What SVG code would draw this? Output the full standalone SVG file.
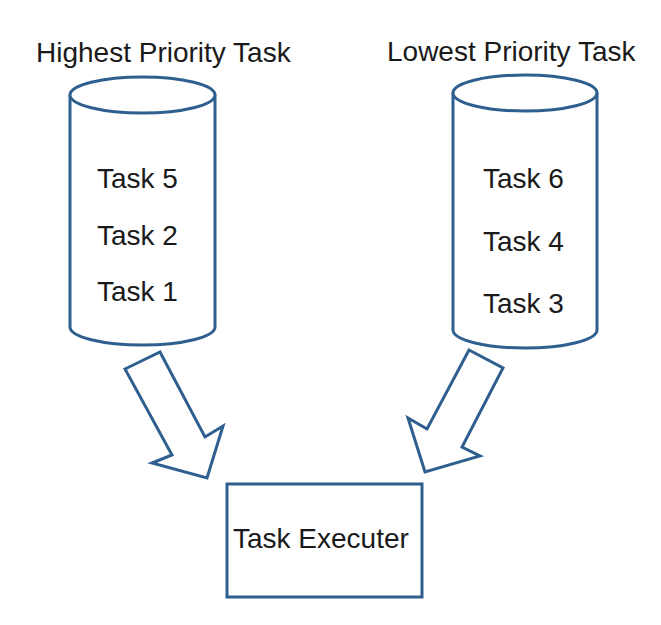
<svg xmlns="http://www.w3.org/2000/svg" width="661" height="625" viewBox="0 0 661 625">
<style>
.s{fill:#fff;stroke:#2f5f8f;stroke-width:3;stroke-linejoin:miter}
.t{font-family:"Liberation Sans",Arial,sans-serif;font-size:28px;fill:#1a1a1a}
</style>
<rect width="661" height="625" fill="#fff"/>
<text class="t" x="36" y="62">Highest Priority Task</text>
<text class="t" x="387" y="61">Lowest Priority Task</text>
<g id="high">
<path class="s" d="M70,95 V327 A72.5,18 0 0 0 215,327 V95"/>
<ellipse class="s" cx="142.5" cy="95" rx="72.5" ry="18"/>
<text class="t" x="97" y="188">Task 5</text>
<text class="t" x="97" y="245">Task 2</text>
<text class="t" x="97" y="301">Task 1</text>
</g>
<g id="low">
<path class="s" d="M453,93 V330 A72,18 0 0 0 597,330 V93"/>
<ellipse class="s" cx="525" cy="93" rx="72" ry="18"/>
<text class="t" x="483" y="188">Task 6</text>
<text class="t" x="483" y="251">Task 4</text>
<text class="t" x="483" y="313">Task 3</text>
</g>
<g id="executer">
<rect class="s" x="227" y="484" width="195" height="113"/>
<text class="t" x="233" y="548">Task Executer</text>
</g>
<g id="connectors">
<polygon class="s" points="125,369 160,352 205,437 223,426 207,478 152,463 172,455"/>
<polygon class="s" points="469,350 503,368 462,447 480,456 425,472 408,418 427,429"/>
</g>
</svg>
